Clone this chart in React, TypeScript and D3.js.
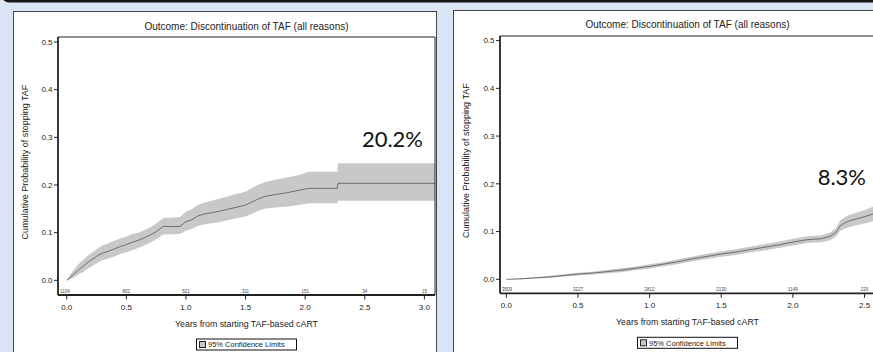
import React from 'react'
import * as d3 from 'd3'

// left panel: cumulative probability (estimate + 95% CI)
const leftTimes = [0, 0.03, 0.06, 0.1, 0.14, 0.18, 0.22, 0.26, 0.3, 0.35, 0.4, 0.45, 0.5, 0.55, 0.6, 0.65, 0.7, 0.75, 0.81, 0.95, 1.0, 1.05, 1.1, 1.15, 1.2, 1.28, 1.35, 1.42, 1.5, 1.55, 1.6, 1.66, 1.75, 1.85, 1.95, 2.03, 2.27, 2.275, 3.09]
const leftEst = [0, 0.006, 0.013, 0.022, 0.03, 0.038, 0.045, 0.052, 0.057, 0.061, 0.066, 0.071, 0.075, 0.08, 0.084, 0.089, 0.095, 0.102, 0.113, 0.113, 0.123, 0.127, 0.135, 0.139, 0.141, 0.145, 0.149, 0.153, 0.158, 0.164, 0.17, 0.176, 0.18, 0.184, 0.189, 0.193, 0.193, 0.2035, 0.2035]
const leftHi = [0, 0.012, 0.022, 0.034, 0.043, 0.052, 0.06, 0.067, 0.073, 0.078, 0.083, 0.088, 0.092, 0.097, 0.1, 0.105, 0.111, 0.119, 0.131, 0.133, 0.144, 0.149, 0.158, 0.163, 0.166, 0.171, 0.176, 0.181, 0.186, 0.193, 0.2, 0.206, 0.211, 0.216, 0.221, 0.228, 0.228, 0.2455, 0.2455]
const leftLo = [0, 0.002, 0.006, 0.012, 0.018, 0.025, 0.031, 0.037, 0.042, 0.046, 0.05, 0.055, 0.059, 0.063, 0.068, 0.073, 0.079, 0.086, 0.096, 0.097, 0.104, 0.108, 0.114, 0.117, 0.119, 0.122, 0.126, 0.13, 0.134, 0.139, 0.145, 0.15, 0.153, 0.155, 0.158, 0.1615, 0.1615, 0.167, 0.167]
const leftAtRisk = ['1104', '802', '521', '311', '151', '34', '15']

// right panel
const rightTimes = [0, 0.1, 0.2, 0.3, 0.4, 0.5, 0.6, 0.7, 0.8, 0.9, 1.0, 1.1, 1.2, 1.3, 1.4, 1.5, 1.6, 1.7, 1.8, 1.9, 2.0, 2.1, 2.2, 2.26, 2.3, 2.33, 2.36, 2.4, 2.45, 2.5, 2.55, 2.6]
const rightEst = [0, 0.001, 0.003, 0.005, 0.008, 0.011, 0.013, 0.016, 0.019, 0.023, 0.027, 0.032, 0.037, 0.043, 0.048, 0.053, 0.057, 0.062, 0.067, 0.072, 0.078, 0.083, 0.085, 0.09, 0.098, 0.112, 0.118, 0.123, 0.127, 0.131, 0.136, 0.14]
const rightHi = [0, 0.002, 0.0045, 0.007, 0.0105, 0.014, 0.016, 0.0195, 0.023, 0.027, 0.0315, 0.0365, 0.042, 0.048, 0.0535, 0.0585, 0.063, 0.068, 0.0735, 0.0785, 0.085, 0.09, 0.0925, 0.098, 0.107, 0.123, 0.13, 0.136, 0.14, 0.145, 0.151, 0.156]
const rightLo = [0, 0, 0.0015, 0.003, 0.0055, 0.008, 0.01, 0.0125, 0.015, 0.019, 0.0225, 0.0275, 0.032, 0.038, 0.0425, 0.0475, 0.051, 0.056, 0.0605, 0.0655, 0.071, 0.076, 0.0775, 0.082, 0.089, 0.101, 0.106, 0.11, 0.114, 0.117, 0.121, 0.124]
const rightAtRisk = ['3509', '3227', '2812', '2130', '1149', '220']

const yTicks = [0, 0.1, 0.2, 0.3, 0.4, 0.5]
const xTicks = [0, 0.5, 1.0, 1.5, 2.0, 2.5, 3.0]

const title = 'Outcome: Discontinuation of TAF (all reasons)'
const xTitle = 'Years from starting TAF-based cART'
const yTitle = 'Cumulative Probability of stopping TAF'
const legendText = '95% Confidence Limits'

const FONT = '"Liberation Sans", Arial, sans-serif'

type PanelProps = {
    id: string
    left: number
    right: number
    top: number
    bottom: number
    xDomain: [number, number]
    yDomain: [number, number]
    times: number[]
    est: number[]
    lo: number[]
    hi: number[]
    atRisk: string[]
    pct: string
    pctX: number
    pctY: number
    titleY: number
    yTitleX: number
}

const Panel = (p: PanelProps) => {
    const x = d3.scaleLinear().domain(p.xDomain).range([p.left, p.right])
    const y = d3.scaleLinear().domain(p.yDomain).range([p.bottom, p.top])
    const idx = p.times.map((_, i) => i)
    const band = d3.area<number>()
        .x(i => x(p.times[i]))
        .y0(i => y(p.lo[i]))
        .y1(i => y(p.hi[i]))
    const line = d3.line<number>()
        .x(i => x(p.times[i]))
        .y(i => y(p.est[i]))
    const ticks = xTicks.filter(t => x(t) <= p.right + 1)
    const cx = (p.left + p.right) / 2
    const cy = (p.top + p.bottom) / 2 - 4
    return (
        <g fontFamily={FONT} fill="#222">
            <defs>
                <clipPath id={p.id}>
                    <rect x={p.left} y={p.top} width={p.right - p.left} height={p.bottom - p.top} />
                </clipPath>
            </defs>
            <text x={cx} y={p.titleY} textAnchor="middle" fontSize={10}>{title}</text>
            <g clipPath={`url(#${p.id})`}>
                <path d={band(idx) || ''} fill="#c8c8c8" />
                <path d={line(idx) || ''} fill="none" stroke="#555" strokeWidth={0.8} />
            </g>
            {/* frame */}
            <line x1={p.left} x2={p.right} y1={p.top} y2={p.top} stroke="#222" strokeWidth={1} />
            <line x1={p.right} x2={p.right} y1={p.top} y2={p.bottom} stroke="#222" strokeWidth={1} />
            <line x1={p.left} x2={p.left} y1={p.top} y2={p.bottom} stroke="#222" strokeWidth={1.8} />
            <line x1={p.left} x2={p.right} y1={p.bottom} y2={p.bottom} stroke="#222" strokeWidth={1.8} />
            {yTicks.map(t => (
                <g key={t}>
                    <line x1={p.left - 4} x2={p.left} y1={y(t)} y2={y(t)} stroke="#222" strokeWidth={1} />
                    <text x={p.left - 5.5} y={y(t)} dy="0.35em" textAnchor="end" fontSize={8}>{d3.format('.1f')(t)}</text>
                </g>
            ))}
            {ticks.map((t, i) => (
                <g key={t}>
                    <line x1={x(t)} x2={x(t)} y1={p.bottom} y2={p.bottom + 4.5} stroke="#222" strokeWidth={1} />
                    <text x={x(t)} y={p.bottom + 14.5} textAnchor="middle" fontSize={8}>{d3.format('.1f')(t)}</text>
                    {p.atRisk[i] && (
                        <text x={i === 0 ? p.left + 2 : x(t)} y={p.bottom - 2} textAnchor={i === 0 ? 'start' : 'middle'} fontSize={4.5} fill="#444">{p.atRisk[i]}</text>
                    )}
                </g>
            ))}
            <text x={cx} y={p.bottom + 32} textAnchor="middle" fontSize={8.8}>{xTitle}</text>
            <text transform={`translate(${p.yTitleX},${cy}) rotate(-90)`} dy="0.35em" textAnchor="middle" fontSize={9}>{yTitle}</text>
            <g transform={`translate(${cx - 50},${p.bottom + 44})`}>
                <rect x={0} y={0} width={100} height={11} fill="#fff" stroke="#111" strokeWidth={1} />
                <rect x={3} y={2.5} width={6} height={6} fill="#c8c8c8" stroke="#222" strokeWidth={1} />
                <text x={11.5} y={8.3} fontSize={7.5}>{legendText}</text>
            </g>
            <text x={p.pctX} y={p.pctY} textAnchor="end" fontSize={22} fontFamily="Lato, 'Open Sans', sans-serif" fill="#111">{p.pct}</text>
        </g>
    )
}

const App = () => {
    return (
        <svg width={873} height={352} style={{ position: 'absolute', left: 0, top: 0 }}>
            <rect width={873} height={352} fill="#dbe4f4" />
            <rect x={2} y={-20} width={900} height={22.5} rx={7} fill="#151515" />
            <rect x={13.5} y={11.5} width={423} height={360} fill="#fff" stroke="#444" strokeWidth={1} />
            <rect x={453.5} y={10.5} width={440} height={360} fill="#fff" stroke="#444" strokeWidth={1} />
            <Panel id="clipL" left={58} right={435} top={37} bottom={295}
                xDomain={[-0.073, 3.089]} yDomain={[-0.0308, 0.5105]}
                times={leftTimes} est={leftEst} lo={leftLo} hi={leftHi} atRisk={leftAtRisk}
                pct="20.2%" pctX={423} pctY={147} titleY={30} yTitleX={25} />
            <Panel id="clipR" left={500} right={875} top={36} bottom={293.3}
                xDomain={[-0.044, 2.573]} yDomain={[-0.0293, 0.5096]}
                times={rightTimes} est={rightEst} lo={rightLo} hi={rightHi} atRisk={rightAtRisk}
                pct="8.3%" pctX={866} pctY={185} titleY={28} yTitleX={465.5} />
        </svg>
    )
}

export default App
